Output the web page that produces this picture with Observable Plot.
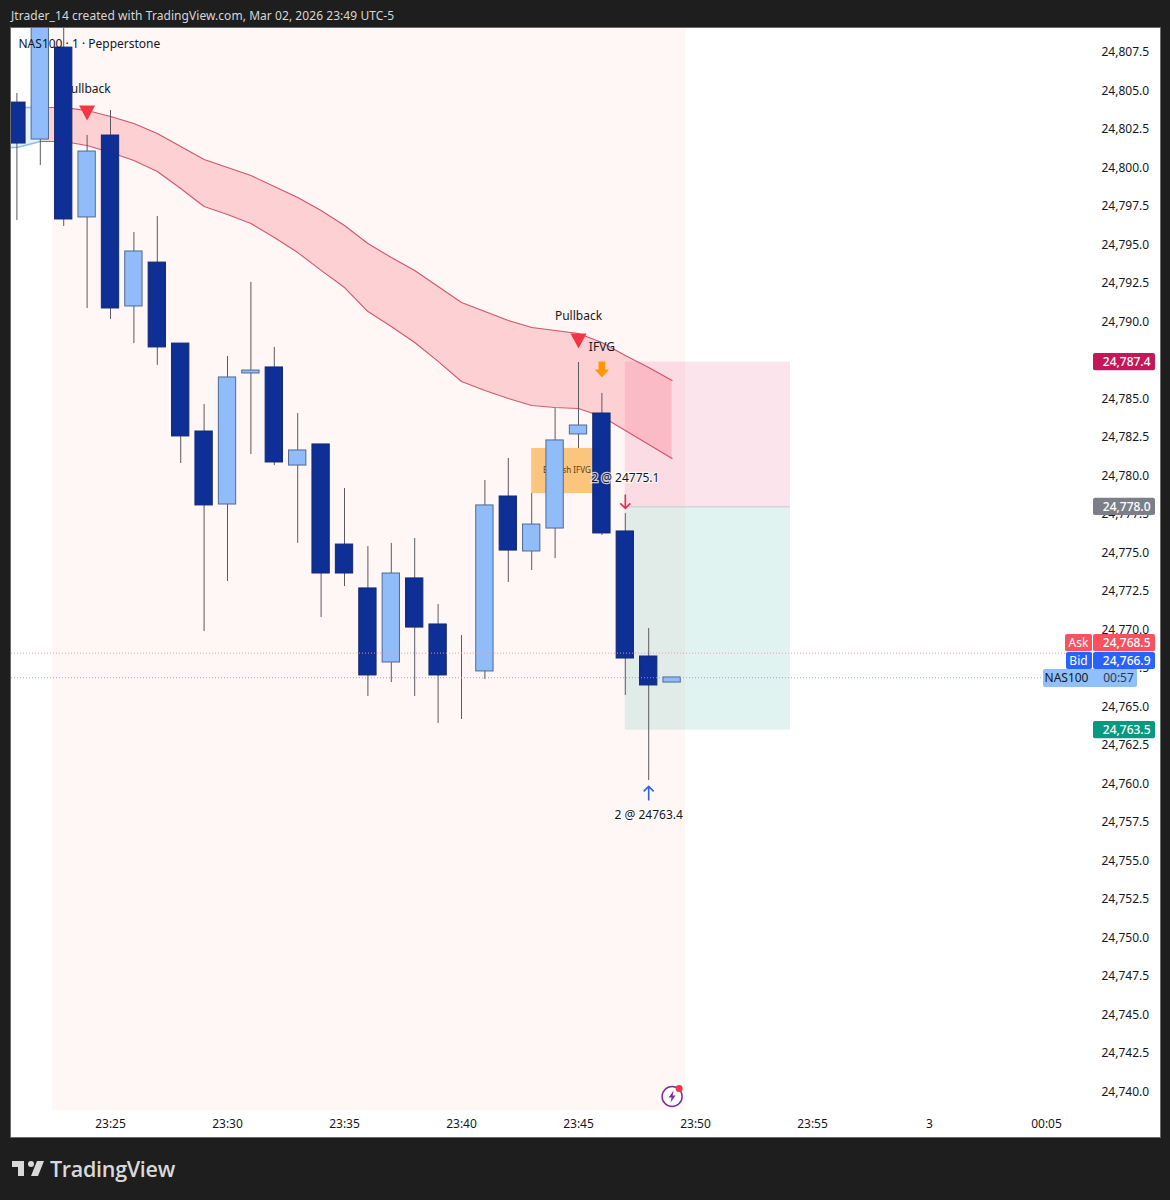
<!DOCTYPE html>
<html>
<head>
<meta charset="utf-8">
<script src="https://cdn.jsdelivr.net/npm/d3@7"></script>
<script src="https://cdn.jsdelivr.net/npm/@observablehq/plot@0.6"></script>
<style>
  html,body{margin:0;padding:0;background:#1e1e1e;width:1170px;height:1200px;overflow:hidden;font-family:"Noto Sans",sans-serif}
  #head{position:absolute;left:11px;top:6px;color:#d6d6d6;font-size:12px;line-height:20px;white-space:nowrap;letter-spacing:.06px}
  #chart{position:absolute;left:11px;top:28px;width:1149px;height:1109px;box-shadow:0 0 0 1px #6a6a6a}
  #chart svg{display:block}
  #logo{position:absolute;left:10px;top:1155px}
  #brand{position:absolute;left:50px;top:1153px;color:#d9d9d9;font-family:"Open Sans",sans-serif;font-weight:600;font-size:21.5px;line-height:32px;letter-spacing:-.3px}
</style>
</head>
<body>
<div id="head">Jtrader_14 created with TradingView.com, Mar 02, 2026 23:49 UTC-5</div>
<div id="chart"></div>
<svg id="logo" width="36" height="28" viewBox="0 0 36 28"><path fill="#d9d9d9" d="M14 6H2v6h6v9h6V6zm14 15h-7l6-15h7l-6 15zm-7-9a3 3 0 100-6 3 3 0 000 6z"/></svg>
<div id="brand">TradingView</div>
<script>
// minutes after 23:00
const candleMinute=[21,22,23,24,25,26,27,28,29,30,31,32,33,34,35,36,37,38,39,40,41,42,43,44,45,46,47,48,49];
const candleOpen=[24804.25,24801.85,24807.82,24796.79,24802.11,24791.01,24793.86,24788.60,24782.89,24778.15,24786.66,24787.05,24780.68,24782.05,24775.55,24772.70,24767.89,24773.35,24770.36,24767.21,24767.31,24778.67,24775.10,24776.59,24782.70,24784.06,24776.40,24768.28,24766.59];
const candleHigh=[24804.84,24810,24810,24802.11,24803.73,24795.81,24796.85,24788.60,24784.64,24787.76,24792.57,24788.35,24784.06,24782.05,24779.19,24775.42,24775.62,24775.94,24771.66,24769.64,24779.71,24781.14,24778.86,24784.38,24787.37,24785.36,24777.57,24770.10,24766.92];
const candleLow=[24796.59,24800.16,24796.20,24790.88,24790.16,24788.60,24787.18,24780.81,24769.90,24773.15,24781.40,24780.68,24775.62,24770.81,24772.83,24765.68,24766.59,24765.68,24763.93,24764.19,24766.79,24773.09,24773.86,24774.64,24781.79,24776.14,24765.75,24760.23,24766.59];
const candleClose=[24801.59,24810,24796.66,24801.07,24790.88,24794.58,24788.35,24782.57,24778.09,24786.40,24786.85,24780.88,24781.66,24773.67,24773.67,24767.05,24773.67,24770.16,24767.05,24767.21,24778.09,24775.16,24776.85,24782.31,24783.28,24776.27,24768.15,24766.40,24766.92];

const bandMinute=[20,21,22,23,24,25,26,27,28,29,30,31,32,33,34,35,36,37,38,39,40,41,42,43,44,45,46,47,48,49];
const bandUpper=[24803.93,24803.93,24803.93,24803.93,24803.73,24803.35,24802.89,24802.24,24801.40,24800.55,24800.03,24799.51,24798.80,24798.09,24797.24,24796.27,24795.10,24794.19,24793.35,24792.31,24791.27,24790.68,24790.10,24789.64,24789.45,24789.25,24788.67,24787.83,24787.05,24786.20];
const bandLower=[24801.33,24801.33,24801.72,24801.72,24801.46,24801.01,24800.49,24799.77,24798.67,24797.50,24796.98,24796.40,24795.49,24794.51,24793.35,24792.24,24790.68,24789.71,24788.67,24787.44,24786.14,24785.55,24785.03,24784.58,24784.45,24784.38,24783.86,24782.95,24782.05,24781.14];

const sessionMinutes=[22.52,49.57];
const tradeMinutes=[47,54.06];
const stopPrice=24787.4, entryPrice=24778.0, targetPrice=24763.5;
const fvgMinutes=[43,45.6];
const fvgPrices=[24778.86,24781.79];
const askPrice=24768.5, bidPrice=24766.9;

const priceTicks=d3.range(24740,24810,2.5);
const timeTicks=[25,30,35,40,45,50,55,60,65];
const timeLabels=["23:25","23:30","23:35","23:40","23:45","23:50","23:55","3","00:05"];

const labelTexts=["Pullback","Pullback","IFVG"];
const labelMinutes=[24,45,46];
const labelPrices=[24805.10,24790.36,24788.35];

const fillNoteTexts=["2 @ 24775.1","2 @ 24763.4"];
const fillNoteMinutes=[47,48];
const fillNotePrices=[24779.84,24757.95];

const tagTexts=["24,787.4","24,778.0","24,768.5","24,766.9","24,763.5"];
const tagFills=["#c2185b","#7c7f8a","#f7525f","#2962ff","#089981"];
// the stacked tags sit a little away from the prices they label, as in the picture
const tagLevels=[24787.4,24778.0,24769.15,24767.99,24763.5];
const countdownLevel=24766.85;

// layout helpers (non-data)
const yDomain=[24738.80,24809.06];
const xDomain=[20.769,66.966];
const pxPerMin=23.4, pxPerPt=15.4;
const px=p=>p/pxPerMin;
const py=p=>p/pxPerPt;
const axisEnd=xDomain[1];

const candles=candleMinute.map((t,i)=>({t,o:candleOpen[i],h:candleHigh[i],l:candleLow[i],c:candleClose[i]}));
const band=bandMinute.map((t,i)=>({t,u:bandUpper[i],d:bandLower[i]}));
const bandPre=band.filter(d=>d.t<=22), bandPost=band.filter(d=>d.t>=22);

const DARK="#0d2f96", LIGHT="#90bdf9";
const isUp=d=>d.c>d.o;
const tri={draw(c){c.moveTo(-8,-7.5);c.lineTo(8,-7.5);c.lineTo(0,7.5);c.closePath();}};
const fat={draw(c){c.moveTo(-3.4,-8);c.lineTo(3.4,-8);c.lineTo(3.4,0);c.lineTo(7,0);c.lineTo(0,8);c.lineTo(-7,0);c.lineTo(-3.4,0);c.closePath();}};
const thinDown={draw(c){c.moveTo(0,-7);c.lineTo(0,7);c.moveTo(-5,2);c.lineTo(0,7);c.lineTo(5,2);}};
const thinUp={draw(c){c.moveTo(0,7);c.lineTo(0,-7);c.moveTo(-5,-2);c.lineTo(0,-7);c.lineTo(5,-2);}};
const bolt={draw(c){c.moveTo(1.5,-6);c.lineTo(-3.5,1);c.lineTo(-0.5,1);c.lineTo(-1.5,6);c.lineTo(3.5,-1);c.lineTo(0.5,-1);c.closePath();}};

const chart=Plot.plot({
  width:1149,height:1109,
  marginLeft:0,marginRight:68,marginTop:0,marginBottom:27,
  style:{background:"#fff",fontFamily:"'Noto Sans',sans-serif",fontSize:"12px",color:"#131722",overflow:"visible"},
  x:{domain:xDomain,range:[0,1081],axis:null},
  y:{domain:yDomain,axis:null},
  marks:[
    Plot.rect([sessionMinutes],{x1:d=>d[0],x2:d=>d[1],fill:"#fff6f6"}),
    // band
    Plot.areaY(bandPre,{x:"t",y1:"d",y2:"u",fill:"#e4f0fa",clip:true}),
    Plot.areaY(bandPost,{x:"t",y1:"d",y2:"u",fill:"#fdd0d4",clip:true}),
    Plot.line(bandPre,{x:"t",y:"u",stroke:"#8fbbe6",clip:true}),
    Plot.line(bandPre,{x:"t",y:"d",stroke:"#8fbbe6",clip:true}),
    Plot.line(bandPost,{x:"t",y:"u",stroke:"#d2566c",strokeWidth:1.1}),
    Plot.line(bandPost,{x:"t",y:"d",stroke:"#d2566c",strokeWidth:1.1}),
    // trade boxes
    Plot.rect([0],{x1:tradeMinutes[0],x2:tradeMinutes[1],y1:stopPrice,y2:entryPrice,fill:"#e91e63",fillOpacity:.12}),
    Plot.rect([0],{x1:tradeMinutes[0],x2:tradeMinutes[1],y1:entryPrice,y2:targetPrice,fill:"#089981",fillOpacity:.12}),
    Plot.ruleY([entryPrice],{x1:tradeMinutes[0],x2:tradeMinutes[1],stroke:"#c9cdd0",strokeWidth:1}),
    // FVG
    Plot.rect([0],{x1:fvgMinutes[0],x2:fvgMinutes[1],y1:fvgPrices[0],y2:fvgPrices[1],fill:"#fcc57d"}),
    Plot.text(["Bearish IFVG"],{x:44.5,y:24780.35,text:d=>d,fontSize:8,fill:"#5c3a10"}),
    // labels beneath candles
    Plot.text(labelTexts.slice(0,2),{x:(d,i)=>labelMinutes[i],y:(d,i)=>labelPrices[i],text:d=>d,fontSize:12,fill:"#131722"}),
    // candles
    Plot.ruleX(candles,{x:"t",y1:"l",y2:"h",stroke:"#5a5a60",strokeWidth:1,clip:true}),
    Plot.rect(candles,{x1:d=>d.t-.37,x2:d=>d.t+.37,y1:"o",y2:"c",
      fill:d=>isUp(d)?LIGHT:DARK,stroke:d=>d.o===d.c?"#6a6a70":isUp(d)?"#4f6a92":"#14296e",strokeWidth:1,clip:true}),
    // price lines
    Plot.ruleY([askPrice],{stroke:"#ee9a9f",strokeDasharray:"1 2",strokeOpacity:.9}),
    Plot.ruleY([bidPrice],{stroke:"#8f9fd0",strokeDasharray:"1 2",strokeOpacity:.9}),
    // markers
    Plot.dot([[24,24803.57],[45,24788.77]],{x:d=>d[0],y:d=>d[1],r:8,symbol:tri,fill:"#f23645",stroke:"none"}),
    Plot.dot([[46,24786.92]],{x:d=>d[0],y:d=>d[1],r:8,symbol:fat,fill:"#ff9800",stroke:"none"}),
    Plot.dot([[47,24778.35]],{x:d=>d[0],y:d=>d[1],r:8,symbol:thinDown,fill:"none",stroke:"#e0304f",strokeWidth:1.6}),
    Plot.dot([[48,24759.39]],{x:d=>d[0],y:d=>d[1],r:8,symbol:thinUp,fill:"none",stroke:"#2f62e6",strokeWidth:1.6}),
    // labels on top
    Plot.text(labelTexts.slice(2),{x:labelMinutes[2],y:labelPrices[2],text:d=>d,fontSize:12,fill:"#131722"}),
    Plot.text(fillNoteTexts,{x:(d,i)=>fillNoteMinutes[i],y:(d,i)=>fillNotePrices[i],text:d=>d,fontSize:12,fill:"#131722",stroke:"#fff",strokeWidth:2.5,strokeOpacity:.75}),
    Plot.text(["NAS100 · 1 · Pepperstone"],{frameAnchor:"top-left",dx:7,dy:16,text:d=>d,fontSize:12,fill:"#131722",lineAnchor:"middle"}),
    // icon
    Plot.dot([[49,24739.71]],{x:d=>d[0],y:d=>d[1],r:10,stroke:"#7b2f9e",strokeWidth:1.5,fill:"#fff"}),
    Plot.dot([[49,24739.71]],{x:d=>d[0],y:d=>d[1],r:6,symbol:bolt,fill:"#7b2f9e",stroke:"none"}),
    Plot.dot([[49.3,24740.23]],{x:d=>d[0],y:d=>d[1],r:3.5,fill:"#f23645",stroke:"none"}),
    // axes
    Plot.axisY({anchor:"right",ticks:priceTicks,tickSize:0,tickPadding:9,tickFormat:d3.format(",.1f"),label:null,fontSize:12,fill:"#131722"}),
    Plot.axisX({anchor:"bottom",ticks:timeTicks,tickSize:0,tickPadding:9,tickFormat:d=>timeLabels[timeTicks.indexOf(d)],label:null,fontSize:12,fill:"#131722"}),
    // price tags
    Plot.rect(tagLevels,{x1:axisEnd+px(1),x2:axisEnd+px(63),y1:d=>d-py(8.6),y2:d=>d+py(8.6),fill:(d,i)=>tagFills[i],rx:2}),
    Plot.rect([tagLevels[2]],{x1:axisEnd-px(27),x2:axisEnd,y1:d=>d-py(8.6),y2:d=>d+py(8.6),fill:"#f7525f",rx:2}),
    Plot.rect([tagLevels[3]],{x1:axisEnd-px(26),x2:axisEnd,y1:d=>d-py(8.6),y2:d=>d+py(8.6),fill:"#2962ff",rx:2}),
    Plot.rect([countdownLevel],{x1:axisEnd-px(49),x2:axisEnd+px(45),y1:d=>d-py(9),y2:d=>d+py(9),fill:"#90bff9",rx:2}),
    Plot.text(tagTexts,{x:axisEnd+px(58),y:(d,i)=>tagLevels[i],text:d=>d,textAnchor:"end",fontSize:12,fontWeight:500,fill:"#fff"}),
    Plot.text(["Ask"],{x:axisEnd-px(14),y:tagLevels[2],text:d=>d,fontSize:12,fill:"#fff"}),
    Plot.text(["Bid"],{x:axisEnd-px(14),y:tagLevels[3],text:d=>d,fontSize:12,fill:"#fff"}),
    Plot.text(["NAS100"],{x:axisEnd-px(26),y:countdownLevel,text:d=>d,fontSize:12,fill:"#131722"}),
    Plot.text(["00:57"],{x:axisEnd+px(26),y:countdownLevel,text:d=>d,fontSize:12,fill:"#2b3a55"})
  ]
});
document.getElementById("chart").appendChild(chart);
</script>
</body>
</html>
